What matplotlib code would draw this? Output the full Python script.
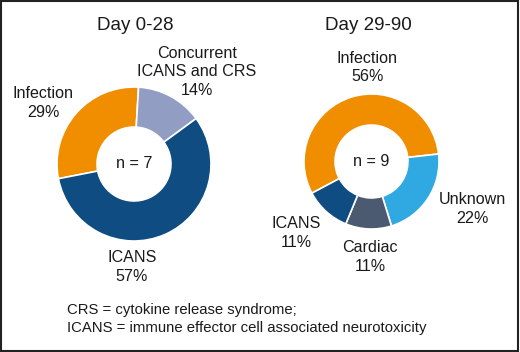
import matplotlib
matplotlib.use("Agg")
import matplotlib.pyplot as plt
from matplotlib.patches import Rectangle

plt.rcParams['font.family'] = ['Liberation Sans', 'DejaVu Sans']

# Data
left_title = "Day 0-28"
left_labels = ["Infection", "Concurrent\nICANS and CRS", "ICANS"]
left_values = [29, 14, 57]
left_n = 7
right_title = "Day 29-90"
right_labels = ["Infection", "Unknown", "Cardiac", "ICANS"]
right_values = [56, 22, 11, 11]
right_n = 9
footnote = ["CRS = cytokine release syndrome;",
            "ICANS = immune effector cell associated neurotoxicity"]

# colours
c_orange = "#F18E00"
c_lav = "#919DC2"
c_dblue = "#0F4C81"
c_lblue = "#30A8E2"
c_slate = "#4B5A70"

W, H = 520, 352
fig = plt.figure(figsize=(W / 100, H / 100), dpi=100)
ax = fig.add_axes([0, 0, 1, 1])
ax.set_xlim(0, W)
ax.set_ylim(0, H)
ax.set_aspect('equal')
ax.axis('off')

def Y(y):
    return H - y

# Left donut
lc = (134, Y(164))
lr = 77
ax.pie(left_values, colors=[c_orange, c_lav, c_dblue], startangle=191,
       counterclock=False, center=lc, radius=lr, frame=True,
       wedgeprops=dict(width=lr * 0.52, edgecolor='white', linewidth=1.2))
# Right donut
rc = (371.5, Y(161.5))
rr = 67.5
ax.pie(right_values, colors=[c_orange, c_lblue, c_slate, c_dblue], startangle=208,
       counterclock=False, center=rc, radius=rr, frame=True,
       wedgeprops=dict(width=rr * 0.46, edgecolor='white', linewidth=1.2))
ax.set_xlim(0, W)
ax.set_ylim(0, H)
ax.axis('off')

fs = 11.6
tc = '#1a1a1a'
ax.text(135, Y(26), left_title, ha='center', va='center', fontsize=13.5, color=tc)
ax.text(368, Y(26), right_title, ha='center', va='center', fontsize=13.5, color=tc)

def lab(x, y, name, val):
    ax.text(x, Y(y), f"{name}\n{val}%", ha='center', va='center',
            fontsize=fs, linespacing=1.3, color=tc)

lab(43, 103, left_labels[0], left_values[0])
lab(197, 72, left_labels[1], left_values[1])
lab(132, 267, left_labels[2], left_values[2])
ax.text(134, Y(164), f"n = {left_n}", ha='center', va='center', fontsize=fs, color=tc)

lab(367.5, 67.5, right_labels[0], right_values[0])
lab(472.5, 209, right_labels[1], right_values[1])
lab(370, 257, right_labels[2], right_values[2])
lab(296, 233, right_labels[3], right_values[3])
ax.text(371, Y(161), f"n = {right_n}", ha='center', va='center', fontsize=fs, color=tc)

ax.text(67, Y(310), footnote[0], ha='left', va='center', fontsize=10.7, color=tc)
ax.text(67, Y(328), footnote[1], ha='left', va='center', fontsize=10.7, color=tc)

fig.patches.append(Rectangle((0.002, 0.003), 0.994, 0.994, transform=fig.transFigure,
                             fill=False, edgecolor='#222222', linewidth=1.5))

fig.savefig("out.png", dpi=100)
